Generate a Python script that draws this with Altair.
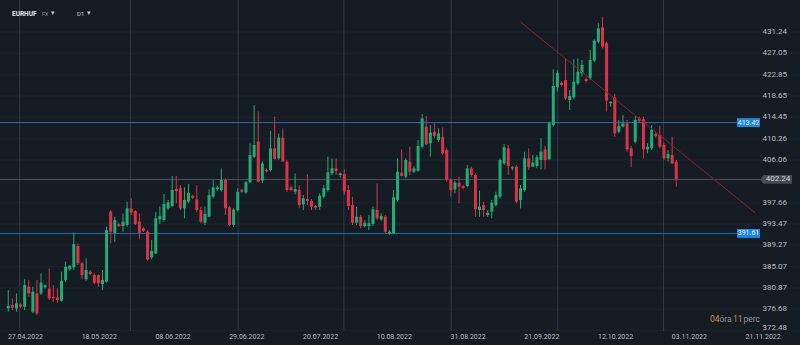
import altair as alt
import pandas as pd

# ---------------- data ----------------
opens = [376.87, 377.53, 376.87, 377.66, 377.20, 381.14, 376.22, 379.82, 379.82, 381.01,
         380.81, 379.17, 379.04, 378.38, 382.45, 384.55, 384.94, 389.14, 385.73, 382.58,
         384.09, 383.43, 383.43, 381.66, 382.12, 395.89, 391.76, 393.47, 393.07, 393.27,
         396.55, 396.00, 393.93, 392.61, 391.96, 386.91, 387.70, 394.38, 394.25, 396.55,
         397.01, 400.36, 400.49, 396.55, 397.86, 398.98, 398.32, 396.22, 393.73, 394.91,
         398.85, 400.29, 400.16, 402.12, 396.75, 393.30, 396.20, 400.20, 399.70, 401.70,
         406.70, 409.70, 402.00, 404.10, 404.10, 408.36, 406.39, 410.46, 405.74, 400.69,
         399.83, 400.16, 397.34, 398.39, 398.00, 397.01, 396.88, 398.85, 400.16, 403.44,
         404.42, 403.11, 403.30, 400.16, 397.20, 393.73, 394.91, 393.07, 393.07, 393.47,
         396.22, 394.38, 394.91, 391.50, 391.63, 398.19, 403.57, 402.78, 405.73, 403.76,
         403.96, 408.68, 412.61, 409.33, 411.63, 410.00, 410.65, 408.02, 402.12, 400.29,
         401.60, 400.94, 400.94, 404.42, 403.11, 396.23, 397.21, 395.24, 395.90, 397.21,
         398.85, 405.41, 408.36, 404.42, 404.75, 398.19, 400.16, 406.39, 404.75, 404.88,
         406.06, 408.16, 406.19, 412.94, 420.36, 421.27, 421.80, 417.86, 418.39, 421.14,
         423.11, 422.00, 422.13, 425.60, 429.34, 432.16, 429.00, 417.20, 418.39, 411.64,
         412.62, 413.27, 408.36, 409.67, 414.26, 414.06, 408.16, 408.36, 411.18, 410.98,
         409.01, 406.39, 407.05, 405.74]
highs = [380.48, 378.84, 379.82, 377.86, 382.58, 382.45, 381.14, 382.45, 383.76, 381.60,
         384.74, 381.46, 380.81, 384.09, 386.05, 385.40, 391.82, 389.66, 386.05, 386.71,
         384.40, 383.76, 383.56, 384.42, 392.94, 396.22, 394.91, 393.70, 395.56, 397.86,
         398.52, 396.20, 395.56, 392.80, 392.28, 390.32, 395.89, 396.88, 399.37, 398.19,
         402.91, 402.91, 401.14, 400.68, 401.34, 399.20, 401.14, 396.88, 396.88, 400.29,
         402.12, 401.00, 404.42, 402.45, 397.01, 396.60, 400.50, 400.40, 401.90, 409.30,
         416.90, 415.60, 405.80, 404.40, 411.80, 414.60, 411.30, 412.30, 406.10, 401.00,
         403.44, 401.14, 399.20, 403.24, 398.40, 397.20, 399.50, 401.14, 406.72, 406.39,
         406.39, 403.60, 404.20, 401.14, 398.85, 396.88, 395.24, 394.20, 395.24, 396.88,
         401.47, 395.56, 395.24, 392.30, 400.16, 406.39, 408.16, 406.39, 408.68, 404.80,
         409.99, 415.11, 414.71, 412.94, 413.27, 412.30, 412.48, 408.35, 402.45, 402.00,
         402.78, 401.10, 405.08, 404.75, 403.44, 400.03, 397.87, 396.20, 398.20, 399.83,
         406.39, 409.21, 409.01, 404.90, 405.08, 401.14, 407.70, 408.36, 407.05, 407.05,
         410.32, 408.80, 413.60, 423.90, 423.77, 421.50, 426.00, 419.83, 425.87, 426.06,
         425.74, 422.30, 427.70, 429.80, 432.95, 434.26, 429.34, 417.60, 419.04, 413.93,
         414.90, 413.93, 408.81, 414.72, 414.59, 414.59, 409.34, 412.95, 411.50, 412.75,
         409.47, 408.03, 410.65, 406.06]
lows = [376.22, 376.55, 376.22, 377.00, 376.55, 379.17, 375.89, 375.56, 379.50, 380.80,
        378.51, 378.19, 377.99, 378.19, 382.12, 384.30, 384.42, 385.40, 382.58, 382.32,
        383.40, 381.66, 381.14, 380.48, 381.92, 389.66, 389.99, 392.90, 391.96, 392.94,
        395.24, 393.27, 390.45, 391.90, 386.25, 386.52, 387.57, 393.47, 393.93, 396.22,
        396.88, 397.53, 396.22, 394.58, 397.53, 398.40, 395.89, 393.60, 393.27, 394.78,
        398.52, 400.00, 399.83, 395.24, 393.07, 392.90, 395.90, 399.60, 399.40, 401.50,
        406.40, 401.60, 401.50, 403.60, 403.80, 406.10, 406.10, 405.70, 399.80, 400.00,
        399.30, 396.56, 396.20, 397.20, 396.23, 396.20, 396.20, 398.50, 399.80, 403.10,
        403.10, 402.60, 399.20, 396.22, 393.27, 393.27, 392.61, 392.80, 392.28, 393.07,
        394.25, 394.12, 391.76, 391.30, 391.50, 397.86, 402.80, 402.45, 403.11, 403.50,
        403.76, 408.35, 409.01, 406.71, 410.32, 409.66, 407.04, 401.80, 398.85, 399.50,
        397.54, 400.30, 400.68, 402.78, 394.91, 394.91, 394.91, 394.90, 394.58, 396.88,
        398.52, 405.08, 403.11, 404.00, 397.54, 396.55, 399.83, 404.10, 404.62, 404.42,
        404.23, 404.23, 406.06, 412.62, 419.50, 420.50, 417.86, 415.90, 418.00, 420.81,
        422.46, 421.30, 421.80, 425.30, 429.00, 428.00, 415.57, 416.55, 410.65, 411.31,
        412.50, 407.70, 404.62, 409.34, 413.30, 406.39, 407.37, 408.03, 410.50, 408.36,
        406.06, 405.74, 405.27, 400.81]
closes = [377.33, 377.00, 377.86, 377.20, 381.46, 379.82, 380.15, 375.89, 381.92, 381.40,
          378.84, 378.84, 378.51, 382.32, 385.07, 385.20, 389.53, 385.73, 383.43, 384.42,
          383.63, 381.92, 381.79, 382.45, 392.28, 391.96, 394.25, 393.07, 393.93, 396.55,
          395.70, 393.47, 391.76, 392.15, 386.52, 388.16, 394.58, 395.04, 397.40, 397.73,
          400.16, 399.96, 396.55, 398.19, 399.63, 398.65, 396.22, 393.93, 395.43, 399.17,
          400.68, 400.68, 402.12, 396.55, 393.27, 396.30, 399.80, 399.80, 401.70, 407.05,
          409.00, 401.80, 405.40, 403.80, 408.36, 406.26, 410.46, 405.74, 400.16, 400.16,
          400.36, 397.21, 398.52, 398.00, 396.88, 396.69, 399.05, 400.49, 403.64, 404.42,
          403.90, 403.44, 399.83, 397.01, 393.73, 394.91, 393.07, 393.73, 393.60, 396.35,
          394.58, 395.04, 391.96, 391.96, 398.72, 403.76, 402.91, 406.06, 403.76, 404.42,
          408.81, 414.25, 409.20, 411.43, 410.78, 411.30, 407.37, 402.12, 400.16, 401.60,
          400.81, 400.55, 404.42, 403.11, 396.36, 396.88, 396.23, 395.70, 397.67, 399.18,
          406.06, 408.55, 404.88, 404.62, 397.87, 400.49, 406.39, 404.62, 405.54, 406.58,
          407.70, 406.06, 413.27, 420.62, 423.24, 420.81, 418.20, 418.65, 421.47, 423.44,
          424.75, 421.60, 425.74, 429.54, 431.96, 428.36, 417.73, 417.50, 411.31, 412.75,
          413.27, 408.16, 406.85, 413.93, 413.80, 408.16, 408.68, 411.96, 410.78, 408.68,
          406.39, 407.24, 405.41, 402.24]

y_ticks = [431.24, 427.05, 422.85, 418.65, 414.45, 410.26, 406.06,
           397.66, 393.47, 389.27, 385.07, 380.87, 376.68]
y_tick_bottom = [372.48]
x_label_pos = [5.2, 23.2, 41.2, 59.2, 77.2, 95.2, 113.2, 131.2, 149.2, 167.2, 185.2]
x_labels = ["27.04.2022", "18.05.2022", "08.06.2022", "29.06.2022", "20.07.2022",
            "10.08.2022", "31.08.2022", "21.09.2022", "12.10.2022", "03.11.2022",
            "21.11.2022"]
month_grid = [3.8, 30.8, 57.1, 82.9, 109.1, 135.1, 160.9]
levels = [413.42, 391.61]
last_price = [402.24]
trend_x = [126.0, 183.3]
trend_y = [433.21, 395.64]

# ---------------- styles ----------------
BG = "#161c24"
GREEN = "#22ab74"
RED = "#d93448"
TXT = "#b4b9bf"

candles = pd.DataFrame({"i": list(range(1, len(opens) + 1)),
                        "open": opens, "high": highs, "low": lows, "close": closes})
candles["dir"] = ["up" if c >= o else "down" for o, c in zip(opens, closes)]

xscale = alt.Scale(domain=[0.205, 192.98], nice=False, zero=False)
yscale = alt.Scale(domain=[372.42, 437.54], nice=False, zero=False)
color = alt.Color("dir:N", scale=alt.Scale(domain=["up", "down"], range=[GREEN, RED]), legend=None)


def X(field):
    return alt.X(field, scale=xscale, axis=None)


def Y(field):
    return alt.Y(field, scale=yscale, axis=None)


# horizontal grid at the price ticks
ygrid = alt.Chart(pd.DataFrame({"v": y_ticks + y_tick_bottom})).mark_rule(
    color="#1d242d", strokeWidth=1).encode(y=Y("v:Q"))

# vertical grid
grid = alt.Chart(pd.DataFrame({"g": month_grid})).mark_rule(color="#343a43", strokeWidth=1).encode(
    x=X("g:Q"))

level_lines = alt.Chart(pd.DataFrame({"lv": levels})).mark_rule(color="#2b6aa8", strokeWidth=1).encode(
    y=Y("lv:Q"), x=alt.value(0), x2=alt.value(737))

price_line = alt.Chart(pd.DataFrame({"p": last_price})).mark_rule(color="#4b525b", strokeWidth=1).encode(
    y=Y("p:Q"), x=alt.value(0), x2=alt.value(760))

wicks = alt.Chart(candles).mark_rule(strokeWidth=1).encode(
    x=X("i:Q"), y=Y("low:Q"), y2="high:Q", color=color)

bodies = alt.Chart(candles).mark_bar(size=3).encode(
    x=X("i:Q"), y=Y("open:Q"), y2="close:Q", color=color)

trend = alt.Chart(pd.DataFrame({"tx": trend_x, "ty": trend_y})).mark_line(
    color="#8c1f28", strokeWidth=1).encode(x=X("tx:Q"), y=Y("ty:Q"))

# y tick labels (right side, inside the canvas)
ylab = alt.Chart(pd.DataFrame({"v": y_ticks})).mark_text(
    align="right", baseline="middle", fontSize=8, color=TXT).encode(
    y=Y("v:Q"), x=alt.value(787), text=alt.Text("v:Q", format=".2f"))
ylab_bottom = alt.Chart(pd.DataFrame({"v": y_tick_bottom})).mark_text(
    align="right", baseline="bottom", fontSize=8, color=TXT, dy=1).encode(
    y=Y("v:Q"), x=alt.value(787), text=alt.Text("v:Q", format=".2f"))

# x tick labels
xlab = alt.Chart(pd.DataFrame({"p": x_label_pos, "t": x_labels})).mark_text(
    align="center", baseline="middle", fontSize=7, color=TXT).encode(
    x=X("p:Q"), y=alt.value(336.5), text="t:N")

lvl_df = pd.DataFrame({"lv": levels, "t": ["%.2f" % v for v in levels]})
level_tags = alt.Chart(lvl_df).mark_point(
    shape="M-1,-0.39L1,-0.39L1,0.39L-1,0.39Z", filled=True, size=529, color="#1e86e0",
    opacity=1, strokeWidth=0).encode(y=Y("lv:Q"), x=alt.value(748.5))
level_text = alt.Chart(lvl_df).mark_text(color="#e8f2fc", fontSize=7, align="center",
                                         baseline="middle").encode(
    y=Y("lv:Q"), x=alt.value(748.5), text="t:N")

pr_df = pd.DataFrame({"p": last_price, "t": ["%.2f" % v for v in last_price]})
price_tag = alt.Chart(pr_df).mark_point(
    shape="M-1,0L-0.78,-0.27L1,-0.27L1,0.27L-0.78,0.27Z", filled=True, size=1024,
    color="#454c55", opacity=1, strokeWidth=0).encode(y=Y("p:Q"), x=alt.value(776))
price_text = alt.Chart(pr_df).mark_text(color="#d3d7dc", fontSize=8, align="center",
                                        baseline="middle").encode(
    y=Y("p:Q"), x=alt.value(778), text="t:N")


def label(t, x, y, size, col, bold=False):
    return alt.Chart(pd.DataFrame({"t": [t]})).mark_text(
        align="left", baseline="middle", fontSize=size, color=col,
        fontWeight="bold" if bold else "normal").encode(
        text="t:N", x=alt.value(x), y=alt.value(y))


header = [
    label("EURHUF", 12, 13.5, 6.5, "#e6e8eb", True),
    label("FX", 42, 13.5, 5.5, "#8d949c"),
    label("▾", 51, 12.5, 7, "#c9cdd2"),
    label("D1", 77, 13.5, 6, "#c9cdd2"),
    label("▾", 87, 12.5, 7, "#c9cdd2"),
]
countdown = [
    label("04", 710, 319, 8.5, "#d38a3a"),
    label("óra", 719.5, 319, 8.5, "#8f959c"),
    label("11", 733, 319, 8.5, "#d38a3a"),
    label("perc", 743.5, 319, 8.5, "#8f959c"),
]

chart = alt.layer(
    ygrid, grid, level_lines, price_line, wicks, bodies, trend,
    level_tags, level_text, price_tag, price_text, ylab, ylab_bottom, xlab,
    *header, *countdown
).properties(
    width=800, height=331,
    autosize=alt.AutoSizeParams(type="none"),
    padding={"left": 0, "top": 0, "right": 0, "bottom": 14},
).configure(background=BG, font="Roboto").configure_view(strokeWidth=0)

chart.save("out.html", embed_options={"renderer": "svg", "actions": False})
